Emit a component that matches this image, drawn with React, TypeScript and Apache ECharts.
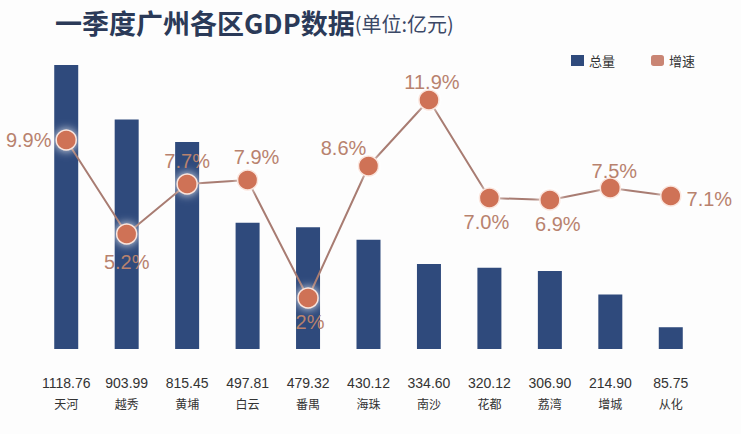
import React, { useEffect, useRef } from "react";
import * as echarts from "echarts";

const categories = ["天河", "越秀", "黄埔", "白云", "番禺", "海珠", "南沙", "花都", "荔湾", "增城", "从化"];
const gdpTotal = [1118.76, 903.99, 815.45, 497.81, 479.32, 430.12, 334.6, 320.12, 306.9, 214.9, 85.75];
const growthRate = [9.9, 5.2, 7.7, 7.9, 2, 8.6, 11.9, 7.0, 6.9, 7.5, 7.1];
const growthLabels = ["9.9%", "5.2%", "7.7%", "7.9%", "2%", "8.6%", "11.9%", "7.0%", "6.9%", "7.5%", "7.1%"];

// label placement (style only)
const labelPlacement: { position: string; distance: number; offset: number[] }[] = [
  { position: "left", distance: 4, offset: [0, 0] },
  { position: "bottom", distance: 7, offset: [0, 0] },
  { position: "top", distance: 2, offset: [0, 0] },
  { position: "top", distance: 2, offset: [9, 0] },
  { position: "bottom", distance: 3, offset: [2, 0] },
  { position: "top", distance: 5, offset: [-25, 8] },
  { position: "top", distance: 0, offset: [3, 3] },
  { position: "bottom", distance: 3, offset: [-3, 0] },
  { position: "bottom", distance: 3, offset: [8, 0] },
  { position: "top", distance: 0, offset: [4, 4] },
  { position: "right", distance: 5, offset: [0, 3] },
];

export default function App() {
  const ref = useRef<HTMLDivElement>(null);
  useEffect(() => {
    if (!ref.current) return;
    const chart = echarts.init(ref.current, null, { renderer: "svg" });
    const barColor = "#2f4a7c";
    const dotColor = "#cf7257";
    const labelColor = "#b8826e";
    chart.setOption({
      animation: false,
      backgroundColor: "#fdfdfd",
      title: {
        left: 50,
        top: 4,
        text: "{a|一季度广州各区GDP数据}{b|(单位:亿元)}",
        textStyle: {
          rich: {
            a: {
              fontSize: 27,
              fontWeight: "bold",
              color: "#2b3a58",
              fontFamily: "Noto Sans CJK SC",
              verticalAlign: "middle",
            },
            b: {
              fontSize: 20,
              fontWeight: "normal",
              color: "#3b4866",
              fontFamily: "Noto Sans CJK SC",
              verticalAlign: "middle",
              padding: [2, 0, 0, 0],
            },
          },
        },
      },
      legend: {
        left: 566,
        top: 49,
        itemWidth: 13,
        itemHeight: 11,
        itemGap: 36,
        textStyle: { fontSize: 13, color: "#333", fontFamily: "Noto Sans CJK SC" },
        data: [
          { name: "总量", icon: "rect", itemStyle: { color: barColor } },
          {
            name: "增速",
            icon: "roundRect",
            itemStyle: { color: "#c98574", borderWidth: 0 },
            lineStyle: { width: 0, opacity: 0 },
          },
        ],
      },
      grid: { left: 36, right: 40, top: 65, bottom: 85 },
      xAxis: {
        type: "category",
        data: categories,
        axisLine: { show: false },
        axisTick: { show: false },
        axisLabel: {
          margin: 23,
          interval: 0,
          formatter: (name: string, idx: number) =>
            `{v|${gdpTotal[idx].toFixed(2)}}\n{n|${name}}`,
          rich: {
            v: { fontSize: 14, color: "#333", lineHeight: 21, fontFamily: "Liberation Sans" },
            n: { fontSize: 12, color: "#333", lineHeight: 21, fontFamily: "Noto Sans CJK SC" },
          },
        },
      },
      yAxis: [
        {
          type: "value",
          min: 0,
          max: Math.max(...gdpTotal),
          show: false,
          splitLine: { show: false },
        },
        {
          type: "value",
          min: -0.55,
          max: 13.65,
          show: false,
          splitLine: { show: false },
        },
      ],
      series: [
        {
          name: "总量",
          type: "bar",
          barWidth: 24,
          yAxisIndex: 0,
          itemStyle: { color: barColor },
          data: gdpTotal,
        },
        {
          name: "增速",
          type: "line",
          yAxisIndex: 1,
          symbol: "circle",
          symbolSize: 20,
          lineStyle: { color: "#a87c72", width: 2 },
          itemStyle: {
            color: dotColor,
            borderColor: "#fbe6de",
            borderWidth: 1.5,
            shadowColor: "rgba(255,255,255,0.9)",
            shadowBlur: 10,
          },
          label: {
            show: true,
            fontSize: 20,
            color: labelColor,
            fontFamily: "Liberation Sans",
          },
          data: growthRate.map((v, i) => ({
            value: v,
            label: {
              position: labelPlacement[i].position,
              distance: labelPlacement[i].distance,
              offset: labelPlacement[i].offset,
              formatter: growthLabels[i],
            },
          })),
        },
      ],
    });
    return () => chart.dispose();
  }, []);
  return (
    <div
      ref={ref}
      style={{ position: "absolute", left: 0, top: 0, width: 741, height: 434 }}
    />
  );
}
